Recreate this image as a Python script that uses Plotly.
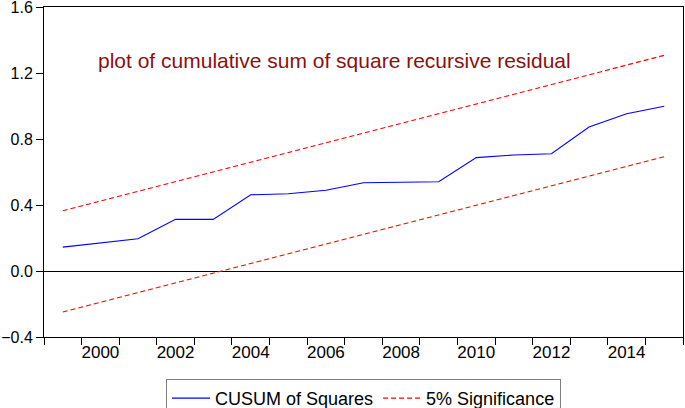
import plotly.graph_objects as go

# CUSUM of squares test, annual sample
years = list(range(1999, 2016))
cusum_sq = [0.145, 0.170, 0.195, 0.313, 0.313, 0.462, 0.468, 0.489, 0.535,
            0.538, 0.541, 0.687, 0.703, 0.711, 0.873, 0.953, 0.998]
upper_5 = [0.365, 0.424, 0.483, 0.542, 0.601, 0.660, 0.718, 0.777, 0.836,
           0.895, 0.954, 1.013, 1.071, 1.130, 1.189, 1.248, 1.307]
lower_5 = [-0.249, -0.190, -0.131, -0.072, -0.013, 0.046, 0.104, 0.163, 0.222,
           0.281, 0.340, 0.399, 0.457, 0.516, 0.575, 0.634, 0.693]
label_years = [2000, 2002, 2004, 2006, 2008, 2010, 2012, 2014]
y_ticks = [-0.4, 0.0, 0.4, 0.8, 1.2, 1.6]

FONT = "Liberation Sans, Arial, sans-serif"
dash = "5px,3px"

fig = go.Figure()
fig.add_trace(go.Scatter(x=years, y=cusum_sq, mode="lines", name="CUSUM of Squares",
                         line=dict(color="#0000ff", width=1.1)))
fig.add_trace(go.Scatter(x=years, y=upper_5, mode="lines", name="5% Significance",
                         line=dict(color="#ff0000", width=1.1, dash=dash)))
fig.add_trace(go.Scatter(x=years, y=lower_5, mode="lines", showlegend=False,
                         line=dict(color="#ff0000", width=1.1, dash=dash)))

# year boundaries get the tick marks, labels sit mid-year
bounds = [y - 0.5 for y in years] + [years[-1] + 0.5]

fig.update_layout(
    width=685, height=408,
    margin=dict(l=44, r=2, t=7, b=71, autoexpand=False),
    paper_bgcolor="white", plot_bgcolor="white",
    font=dict(family=FONT, size=17, color="black"),
    xaxis=dict(
        range=[bounds[0], bounds[-1]], automargin=False,
        tickmode="array", tickvals=label_years, ticktext=[str(y) for y in label_years],
        ticks="", showgrid=False, zeroline=False,
        showline=True, linecolor="black", linewidth=1, mirror=True,
        minor=dict(tickmode="array", tickvals=bounds, ticks="outside", ticklen=7,
                   tickcolor="black", showgrid=False),
        tickfont=dict(size=17), ticklabeloverflow="allow",
    ),
    yaxis=dict(
        range=[-0.4, 1.6], automargin=False,
        tickmode="array", tickvals=y_ticks, tickformat=".1f",
        ticks="outside", ticklen=7, tickcolor="black",
        showgrid=False, zeroline=True, zerolinecolor="black", zerolinewidth=1,
        showline=True, linecolor="black", linewidth=1, mirror=True,
        tickfont=dict(size=16), ticklabeloverflow="allow",
    ),
    legend=dict(
        orientation="h", x=0.5, xanchor="center", y=-0.127, yanchor="top",
        bordercolor="#808080", borderwidth=1, font=dict(size=18),
        itemwidth=38, tracegroupgap=0,
    ),
    annotations=[dict(
        text="plot of cumulative sum of square recursive residual",
        xref="paper", yref="paper", x=0.455, y=0.839,
        xanchor="center", yanchor="middle",
        showarrow=False, font=dict(family=FONT, size=21, color="#8b1010"),
    )],
)

# drop the browser's default 8px body margin so the figure sits at the window origin
fig.write_html("out.html", config={"displayModeBar": False},
               post_script="document.body.style.margin='0';")
